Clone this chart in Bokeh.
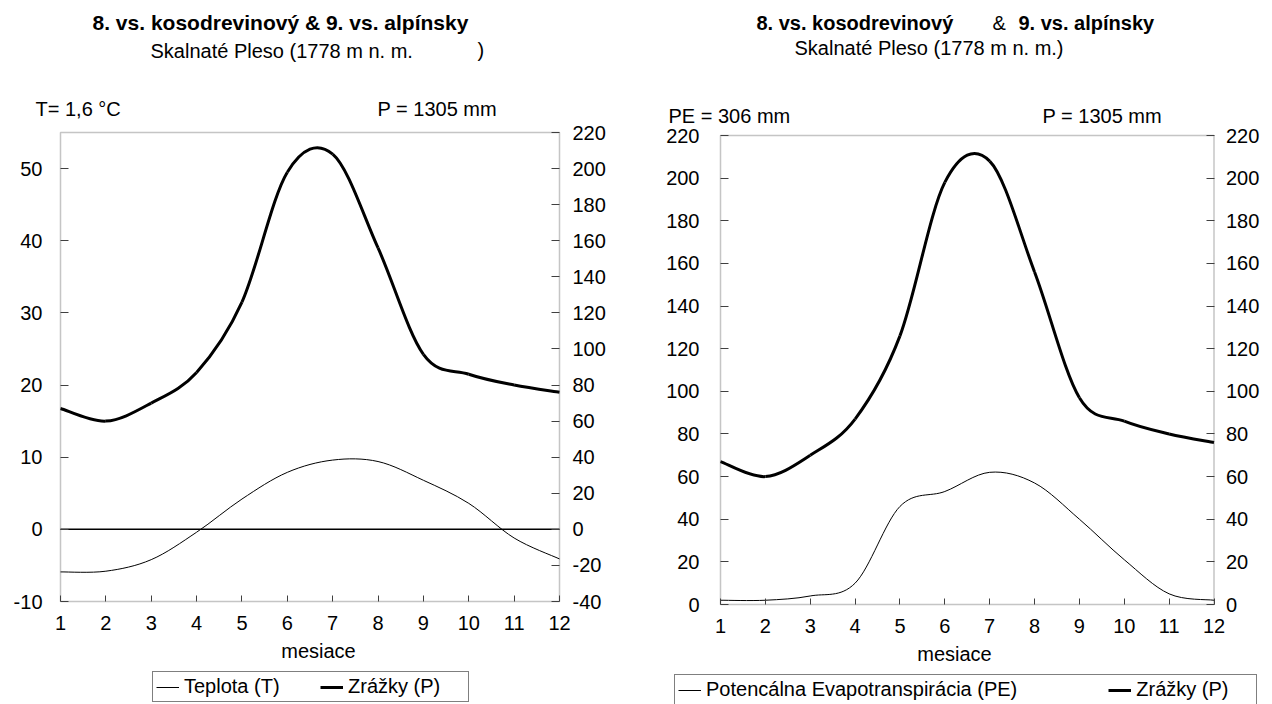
from bokeh.plotting import figure
from bokeh.models import (Range1d, LinearAxis, FixedTicker, Label, Legend, LegendItem,
                          BoxAnnotation, PrintfTickFormatter)
from bokeh.layouts import row
from bokeh.embed import file_html
from bokeh.resources import INLINE

# ---------------- data ----------------
months = [1, 2, 3, 4, 5, 6, 7, 8, 9, 10, 11, 12]
temp_T = [-5.9, -5.8, -4.2, -0.4, 4.2, 7.9, 9.6, 9.4, 6.8, 3.6, -1.2, -4.1]
precip_P = [67, 60, 70, 87, 126, 198, 208, 156, 97, 86, 80, 76]
pet_PE = [2, 2, 4, 10, 46, 53, 62, 57, 40, 21, 5, 2]

temp_ticks = [-10, 0, 10, 20, 30, 40, 50]
temp_limits = [-10, 55]
precip_ticks_left = [-40, -20, 0, 20, 40, 60, 80, 100, 120, 140, 160, 180, 200, 220]
precip_limits_left = [-40, 220]
mm_ticks = [0, 20, 40, 60, 80, 100, 120, 140, 160, 180, 200, 220]
mm_limits = [0, 220]

title_a = "8. vs. kosodrevinový & 9. vs.  alpínsky"
title_b1 = "8. vs. kosodrevinový"
title_b2 = "&"
title_b3 = "9. vs.  alpínsky"
subtitle_a = "Skalnaté Pleso (1778 m n. m."
subtitle_b = "Skalnaté Pleso (1778 m n. m.)"
x_label = "mesiace"

FONT = "Liberation Sans"
FS = "20px"
AX = "#404040"
W, H = 636, 704


def smooth(xs, ys):
    """Bezier control points (Excel-like smoothed line) through the data points."""
    n = len(xs)
    d = dict(x0=[], y0=[], x1=[], y1=[], cx0=[], cy0=[], cx1=[], cy1=[])
    for i in range(n - 1):
        xm, ym = (xs[i - 1], ys[i - 1]) if i > 0 else (xs[i], ys[i])
        xp, yp = (xs[i + 2], ys[i + 2]) if i + 2 < n else (xs[i + 1], ys[i + 1])
        d["x0"].append(xs[i]); d["y0"].append(ys[i])
        d["x1"].append(xs[i + 1]); d["y1"].append(ys[i + 1])
        d["cx0"].append(xs[i] + (xs[i + 1] - xm) / 6.0)
        d["cy0"].append(ys[i] + (ys[i + 1] - ym) / 6.0)
        d["cx1"].append(xs[i + 1] - (xp - xs[i]) / 6.0)
        d["cy1"].append(ys[i + 1] - (yp - ys[i]) / 6.0)
    return d


def span_range(v0, v1, p0, p1, total):
    """Range whose values v0 / v1 land at canvas pixels p0 / p1 (canvas spans 0..total)."""
    k = (v1 - v0) / (p1 - p0)
    return Range1d(v0 - p0 * k, v0 + (total - p0) * k)


def style_axis(ax, standoff, tick_in=8):
    ax.axis_line_color = None
    ax.major_tick_line_color = AX
    ax.major_tick_line_width = 1
    ax.major_tick_in = tick_in
    ax.major_tick_out = 0
    ax.minor_tick_line_color = None
    ax.major_label_text_font = FONT
    ax.major_label_text_font_size = FS
    ax.major_label_text_color = "black"
    ax.major_label_standoff = standoff
    ax.formatter = PrintfTickFormatter(format="%d")


def make_fig(box, ylim, yticks, ystandoff):
    # box = (left, right, top, bottom) in canvas pixels of the chart rectangle
    L, R, T, B = box
    p = figure(width=W, height=H, output_backend="svg", toolbar_location=None, title=None,
               x_range=span_range(months[0], months[-1], L, R, W),
               y_range=span_range(ylim[0], ylim[1], H - B, H - T, H),
               min_border=0)
    p.xgrid.visible = False
    p.ygrid.visible = False
    p.outline_line_color = None
    p.background_fill_color = "white"
    p.border_fill_color = "white"
    xa = p.xaxis[0]
    xa.fixed_location = ylim[0]
    xa.ticker = FixedTicker(ticks=months)
    style_axis(xa, 14, tick_in=6)
    xa.axis_label = x_label
    xa.axis_label_text_font = FONT
    xa.axis_label_text_font_size = FS
    xa.axis_label_text_font_style = "normal"
    xa.axis_label_text_color = "black"
    xa.axis_label_standoff = 7
    ya = p.yaxis[0]
    ya.fixed_location = months[0]
    ya.ticker = FixedTicker(ticks=yticks)
    style_axis(ya, ystandoff)
    p.add_layout(BoxAnnotation(left=months[0], right=months[-1], bottom=ylim[0], top=ylim[1],
                               fill_alpha=0, line_color=AX, line_width=1.5, level="overlay"))
    return p


def add_text(p, x, y, text, bold=False, size=FS):
    # x, y: canvas pixels from the top-left corner
    p.add_layout(Label(x=x, y=H - y, x_units="screen", y_units="screen", text=text,
                       text_font=FONT, text_font_size=size, text_color="black",
                       text_font_style="bold" if bold else "normal",
                       text_align="left", text_baseline="middle"))


def add_legend(p, items, x, y_bottom, spacing, label_width):
    lg = Legend(items=items, orientation="horizontal", location=(x, H - y_bottom),
                border_line_color="black", border_line_width=1, padding=3, spacing=spacing,
                label_standoff=5, glyph_width=23, glyph_height=20, label_width=label_width,
                label_height=20, label_text_font=FONT, label_text_font_size=FS,
                label_text_color="black", background_fill_color="white",
                background_fill_alpha=1, margin=0)
    p.add_layout(lg)


# ---------------- left chart: temperature & precipitation ----------------
p1 = make_fig((60, 559, 132, 601), temp_limits, temp_ticks, 18)
p1.extra_y_ranges = {"P": span_range(precip_limits_left[0], precip_limits_left[1], H - 601, H - 132, H)}
ra = LinearAxis(y_range_name="P", ticker=FixedTicker(ticks=precip_ticks_left))
ra.fixed_location = months[-1]
style_axis(ra, 13)
p1.add_layout(ra, "right")
p1.segment(x0=months[0], x1=months[-1], y0=0, y1=0, line_color="black", line_width=1.5)

rT = p1.bezier(line_color="black", line_width=1, **smooth(months, temp_T))
rP = p1.bezier(line_color="black", line_width=3, y_range_name="P", **smooth(months, precip_P))

add_text(p1, 92, 22, title_a, bold=True, size="21px")
add_text(p1, 150, 50, subtitle_a)
add_text(p1, 477, 49, ")")
add_text(p1, 35, 108, "T= 1,6 °C")
add_text(p1, 377, 108, "P = 1305 mm")
add_legend(p1, [LegendItem(label="Teplota (T)", renderers=[rT]),
                LegendItem(label="Zrážky (P)", renderers=[rP])], 152, 702, 19, 117)

# ---------------- right chart: potential evapotranspiration & precipitation ----------------
p2 = make_fig((84, 577.5, 135, 604), mm_limits, mm_ticks, 21)
ra2 = LinearAxis(ticker=FixedTicker(ticks=mm_ticks))
ra2.fixed_location = months[-1]
style_axis(ra2, 12)
p2.add_layout(ra2, "right")

rPE = p2.bezier(line_color="black", line_width=1, **smooth(months, pet_PE))
rP2 = p2.bezier(line_color="black", line_width=3, **smooth(months, precip_P))

add_text(p2, 120, 22, title_b1, bold=True)
add_text(p2, 356, 22, title_b2)
add_text(p2, 382, 22, title_b3, bold=True)
add_text(p2, 158, 47, subtitle_b)
add_text(p2, 32, 115, "PE = 306 mm")
add_text(p2, 406, 115, "P = 1305 mm")
add_legend(p2, [LegendItem(label="Potencálna Evapotranspirácia (PE)", renderers=[rPE]),
                LegendItem(label="Zrážky (P)", renderers=[rP2])], 38, 705, 91, 117)

layout = row(p1, p2)
open("out.html", "w").write(file_html(layout, INLINE))
